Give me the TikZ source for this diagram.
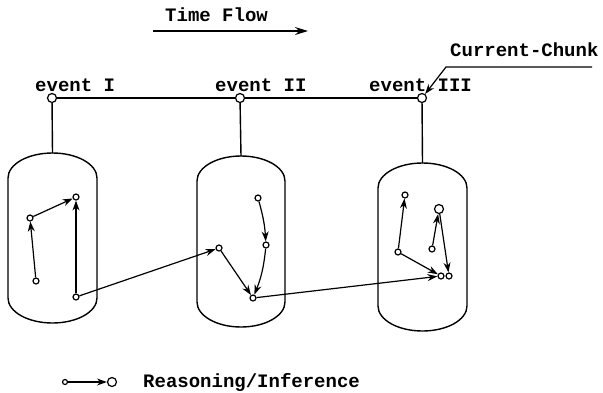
\documentclass[tikz,border=0pt]{standalone}
\usepackage{fontspec}
\setmonofont{Liberation Mono}
\usetikzlibrary{arrows.meta}

\tikzset{
  dot/.style={circle, draw, fill=white, line width=1.2pt, inner sep=0pt, minimum size=6pt},
  bigdot/.style={dot, minimum size=9pt},
  flow/.style={line width=1.2pt, -{Stealth[length=10pt,width=7pt]}},
  chunk/.style={line width=1.4pt},
  lbl/.style={anchor=west, inner sep=0pt, font=\ttfamily\bfseries\fontsize{19}{22}\selectfont}
}

\begin{document}
\begin{tikzpicture}[x=1pt, y=-1pt]
	\useasboundingbox (0,0) rectangle (603,392);

	\node[lbl] (time) at (165,15) {Time Flow};
	\coordinate (tA) at (153,31);
	\coordinate (tB) at (308,31);
	\draw[line width=1.4pt, -{Stealth[length=13pt,width=8pt]}] (tA) -- (tB);

	\draw[chunk] (8,178) arc[start angle=180, end angle=360, x radius=44.5, y radius=25]
		-- (97,298) arc[start angle=0, end angle=180, x radius=44.5, y radius=25] -- cycle;
	\draw[chunk] (197,181) arc[start angle=180, end angle=360, x radius=44, y radius=25]
		-- (285,302) arc[start angle=0, end angle=180, x radius=44, y radius=25] -- cycle;
	\draw[chunk] (378,188) arc[start angle=180, end angle=360, x radius=44.5, y radius=25]
		-- (467,306) arc[start angle=0, end angle=180, x radius=44.5, y radius=25] -- cycle;
	\coordinate (top1) at (52.5,153);
	\coordinate (top2) at (241,156);
	\coordinate (top3) at (422.5,163);

	\node[lbl] (t1) at (35,85) {event I};
	\node[lbl] (t2) at (215,85) {event II};
	\node[lbl] (t3) at (369,85) {event III};
	\node[bigdot] (e1) at (52,98) {};
	\node[bigdot] (e2) at (240,98) {};
	\node[bigdot] (e3) at (422,98) {};
	\draw[chunk] (e1) -- (e2) -- (e3);
	\draw[chunk] (e1) -- (top1);
	\draw[chunk] (e2) -- (top2);
	\draw[chunk] (e3) -- (top3);

	\node[lbl] (cur) at (450,50) {Current-Chunk};
	\coordinate (cA) at (592,67);
	\coordinate (cB) at (446,67);
	\draw[flow] (cA) -- (cB) -- (e3);

	\node[dot] (a1) at (36,281) {};
	\node[dot] (a2) at (30,218) {};
	\node[dot] (a3) at (76,197) {};
	\node[dot] (a4) at (76,297) {};

	\node[dot] (b1) at (219,248) {};
	\node[dot] (b2) at (258,198) {};
	\node[dot] (b3) at (266,245) {};
	\node[dot] (b4) at (253,298) {};

	\node[dot] (c1) at (405,195) {};
	\node[dot] (c2) at (398,252) {};
	\node[bigdot] (c3) at (439,209) {};
	\node[dot] (c4) at (432,249) {};
	\node[dot] (c5) at (441,276) {};
	\node[dot] (c6) at (449,276) {};

	\draw[flow] (a1) -- (a2);
	\draw[flow] (a2) -- (a3);
	\draw[flow] (a4) -- (a3);
	\draw[flow] (a4) -- (b1);
	\draw[flow] (b2) to[bend left=6] (b3);
	\draw[flow] (b3) to[bend left=8] (b4);
	\draw[flow] (b1) -- (b4);
	\draw[flow] (b4) -- (c5);
	\draw[flow] (c2) -- (c1);
	\draw[flow] (c4) -- (c3);
	\draw[flow] (c3) -- (c6);
	\draw[flow] (c2) -- (c5);

	\node[dot, minimum size=5pt] (l1) at (65,382) {};
	\node[bigdot] (l2) at (112,382) {};
	\draw[flow] (l1) -- (l2);
	\node[lbl] (legend) at (143,382) {Reasoning/Inference};
\end{tikzpicture}
\end{document}
